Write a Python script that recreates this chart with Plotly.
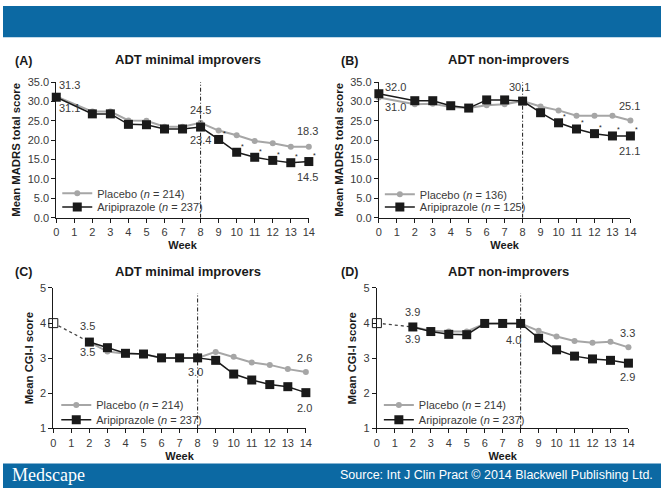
import plotly.graph_objects as go

# ---------------- data ----------------
weeks = [0, 2, 3, 4, 5, 6, 7, 8, 9, 10, 11, 12, 13, 14]
week_ticks = list(range(0, 15))

# (A) MADRS, ADT minimal improvers
a_placebo = [31.3, 27.4, 27.4, 25.1, 25.0, 23.5, 23.5, 24.5, 22.5, 21.3, 19.8, 19.2, 18.3, 18.3]
a_arip = [31.1, 26.8, 26.8, 24.1, 24.0, 22.9, 22.9, 23.4, 20.2, 16.9, 15.6, 14.8, 14.2, 14.5]
a_star_weeks = [9, 10, 11, 12, 13, 14]

# (B) MADRS, ADT non-improvers
b_placebo = [31.0, 29.3, 29.4, 28.6, 28.3, 29.0, 29.3, 30.1, 28.7, 27.7, 26.3, 26.3, 26.3, 25.1]
b_arip = [32.0, 30.2, 30.2, 28.9, 28.3, 30.4, 30.4, 30.1, 27.1, 24.5, 22.9, 21.7, 21.1, 21.1]
b_star_weeks = [10, 11, 12, 13, 14]

# (C) CGI-I, ADT minimal improvers (weeks 2..14) + baseline
cgi_weeks = [2, 3, 4, 5, 6, 7, 8, 9, 10, 11, 12, 13, 14]
c_placebo = [3.46, 3.19, 3.13, 3.12, 3.01, 3.01, 3.01, 3.18, 3.04, 2.88, 2.81, 2.69, 2.61]
c_arip = [3.46, 3.30, 3.14, 3.12, 3.01, 3.01, 3.01, 2.94, 2.55, 2.38, 2.25, 2.19, 2.02]
c_baseline = 4.0

# (D) CGI-I, ADT non-improvers
d_placebo = [3.89, 3.78, 3.76, 3.76, 3.98, 3.98, 3.99, 3.78, 3.62, 3.49, 3.44, 3.47, 3.31]
d_arip = [3.89, 3.76, 3.68, 3.67, 3.99, 3.99, 3.99, 3.57, 3.24, 3.06, 2.98, 2.94, 2.86]
d_baseline = 4.0

titles = ["ADT minimal improvers", "ADT non-improvers", "ADT minimal improvers", "ADT non-improvers"]
panel_tags = ["(A)", "(B)", "(C)", "(D)"]
n_placebo = [214, 136, 214, 214]
n_arip = [237, 125, 237, 237]

GRAY = "#a6a6a6"
BLACK = "#1a1a1a"
TXT = "#3a3a3a"
BLUE = "#0c69a3"
FONT = "Arial, Liberation Sans, sans-serif"

W, H = 667, 494

def px(x):
    return x / W

def py(y):
    return 1 - y / H

fig = go.Figure()

# panel geometry (pixel boxes): x0, x1, ytop, ybottom
boxes = [
    (54, 310, 78, 217),
    (381, 636, 78, 217),
    (51, 307, 289, 433),
    (379, 634, 289, 433),
]
yranges = [[0, 35], [0, 35], [1, 5], [1, 5]]
ytitles = ["Mean MADRS total score", "Mean MADRS total score", "Mean CGI-I score", "Mean CGI-I score"]

layout_axes = {}
for i, (x0, x1, yt, yb) in enumerate(boxes):
    k = "" if i == 0 else str(i + 1)
    madrs = i < 2
    layout_axes["xaxis" + k] = dict(
        domain=[px(x0), px(x1)], range=[0, 14], anchor="y" + k,
        tickmode="array", tickvals=week_ticks, ticktext=[str(t) for t in week_ticks],
        showline=True, linecolor=BLACK, linewidth=1, ticks="outside", ticklen=4,
        tickcolor=BLACK, showgrid=False, zeroline=False,
        tickfont=dict(size=11, color=TXT, family=FONT),
        title=dict(text="<b>Week</b>", font=dict(size=11, color=BLACK, family=FONT), standoff=4),
    )
    layout_axes["yaxis" + k] = dict(
        domain=[py(yb), py(yt)], range=yranges[i], anchor="x" + k,
        tickmode="linear", tick0=0 if madrs else 1, dtick=5 if madrs else 1,
        tickformat=".1f" if madrs else "d",
        showline=True, linecolor=BLACK, linewidth=1, ticks="outside", ticklen=4,
        tickcolor=BLACK, showgrid=False, zeroline=False,
        tickfont=dict(size=11, color=TXT, family=FONT),
        title=dict(text="<b>" + ytitles[i] + "</b>", font=dict(size=11.3, color=BLACK, family=FONT), standoff=4),
    )

series = [
    (weeks, a_placebo, a_arip),
    (weeks, b_placebo, b_arip),
    (cgi_weeks, c_placebo, c_arip),
    (cgi_weeks, d_placebo, d_arip),
]
baselines = [None, None, c_baseline, d_baseline]

for i, (xs, pl, ar) in enumerate(series):
    k = "" if i == 0 else str(i + 1)
    lg_p = "legend" if i == 0 else "legend" + str(2 * i + 1)
    lg_a = "legend" + str(2 * i + 2)
    base = baselines[i]
    if base is not None:
        fig.add_trace(go.Scatter(
            x=[0, xs[0]], y=[base, ar[0]], mode="lines",
            line=dict(color="#444444", width=1.3, dash="dot"),
            xaxis="x" + k, yaxis="y" + k, showlegend=False, cliponaxis=False))
        fig.add_trace(go.Scatter(
            x=[0], y=[base], mode="markers",
            marker=dict(symbol="square", size=9, color="white", line=dict(color=BLACK, width=1)),
            xaxis="x" + k, yaxis="y" + k, showlegend=False, cliponaxis=False))
    fig.add_trace(go.Scatter(
        x=xs, y=pl, mode="lines+markers", name="Placebo (<i>n</i> = %d)" % n_placebo[i],
        line=dict(color=GRAY, width=2), marker=dict(symbol="circle", size=6, color=GRAY),
        xaxis="x" + k, yaxis="y" + k, legend=lg_p, cliponaxis=False))
    fig.add_trace(go.Scatter(
        x=xs, y=ar, mode="lines+markers", name="Aripiprazole (<i>n</i> = %d)" % n_arip[i],
        line=dict(color=BLACK, width=1.5), marker=dict(symbol="square", size=9, color=BLACK),
        xaxis="x" + k, yaxis="y" + k, legend=lg_a, cliponaxis=False))

# legends: one per entry so that the rows can sit close together
legend_pos = [(55, 192), (55, 206), (382, 193), (382, 206),
              (54, 409), (54, 424), (381, 409), (381, 424)]
legends = {}
for j, (lx, ly) in enumerate(legend_pos):
    name = "legend" if j == 0 else "legend" + str(j + 1)
    legends[name] = dict(
        x=px(lx), y=py(ly), xanchor="left", yanchor="middle",
        bgcolor="rgba(0,0,0,0)", borderwidth=0, tracegroupgap=0,
        font=dict(size=11, color=TXT, family=FONT), itemwidth=30,
    )

annotations = []
shapes = []

# vertical dash-dot line at week 8
vtops = [35, 35, 4.85, 4.85]
for i in range(4):
    k = "" if i == 0 else str(i + 1)
    shapes.append(dict(type="line", xref="x" + k, yref="y" + k, x0=8, x1=8,
                       y0=yranges[i][0], y1=vtops[i],
                       line=dict(color=BLACK, width=1, dash="4px,2px,1px,2px")))

# panel titles and tags
title_pos = [(188, 55), (512, 55), (188, 272), (512, 272)]
tag_pos = [(10, 56), (341, 56), (10, 273), (341, 273)]
for i in range(4):
    tx, ty = title_pos[i]
    annotations.append(dict(x=px(tx), y=py(ty), xref="paper", yref="paper", text="<b>" + titles[i] + "</b>",
                            showarrow=False, xanchor="center", yanchor="middle",
                            font=dict(size=13, color=BLACK, family=FONT)))
    gx, gy = tag_pos[i]
    annotations.append(dict(x=px(gx), y=py(gy), xref="paper", yref="paper", text="<b>" + panel_tags[i] + "</b>",
                            showarrow=False, xanchor="left", yanchor="middle",
                            font=dict(size=12.5, color=BLACK, family=FONT)))

# value labels: (panel, series, index, xshift, yshift)
label_specs = [
    (0, "p", 0, 13, 11), (0, "a", 0, 13, -11), (0, "p", 7, 0, 13), (0, "a", 7, 0, -13),
    (0, "p", 13, -1, 16), (0, "a", 13, -1, -15),
    (1, "a", 0, 17, 7), (1, "p", 0, 17, -9), (1, "p", 7, -3, 14), (1, "p", 13, -1, 14), (1, "a", 13, -1, -15),
    (2, "a", 0, -2, 16), (2, "p", 0, -2, -10), (2, "a", 6, -2, -14), (2, "p", 12, -1, 14), (2, "a", 12, -1, -15),
    (3, "p", 0, 0, 15), (3, "a", 0, 0, -12), (3, "a", 6, -7, -17), (3, "p", 12, -1, 14), (3, "a", 12, -1, -14),
]
for (pi, s, idx, dx, dy) in label_specs:
    k = "" if pi == 0 else str(pi + 1)
    xs, pl, ar = series[pi]
    v = pl[idx] if s == "p" else ar[idx]
    annotations.append(dict(x=xs[idx], y=v, xref="x" + k, yref="y" + k, text="%.1f" % v,
                            showarrow=False, xshift=dx, yshift=dy,
                            font=dict(size=11, color=TXT, family=FONT)))

# asterisks for significance
for pi, star_weeks in [(0, a_star_weeks), (1, b_star_weeks)]:
    k = "" if pi == 0 else str(pi + 1)
    xs, pl, ar = series[pi]
    for w in star_weeks:
        v = ar[xs.index(w)]
        annotations.append(dict(x=w, y=v, xref="x" + k, yref="y" + k, text="*",
                                showarrow=False, xshift=6, yshift=6,
                                font=dict(size=7, color=BLACK, family=FONT)))

# banners
shapes.append(dict(type="rect", xref="paper", yref="paper", x0=0, x1=1, y0=py(32), y1=1,
                   fillcolor=BLUE, line=dict(width=0), layer="below"))
shapes.append(dict(type="rect", xref="paper", yref="paper", x0=0, x1=1, y0=0, y1=py(469),
                   fillcolor=BLUE, line=dict(width=0), layer="below"))
annotations.append(dict(x=px(7), y=py(481), xref="paper", yref="paper", text="Medscape",
                        showarrow=False, xanchor="left", yanchor="middle",
                        font=dict(size=18, color="white", family="Liberation Serif, Times New Roman, serif")))
annotations.append(dict(x=px(661), y=py(481), xref="paper", yref="paper",
                        text="Source: Int J Clin Pract \u00a9 2014 Blackwell Publishing Ltd.",
                        showarrow=False, xanchor="right", yanchor="middle",
                        font=dict(size=12.5, color="white", family=FONT)))

fig.update_layout(
    width=W, height=H, margin=dict(l=0, r=0, t=0, b=0),
    paper_bgcolor="white", plot_bgcolor="rgba(0,0,0,0)",
    font=dict(family=FONT, color=TXT),
    annotations=annotations, shapes=shapes, showlegend=True,
    **layout_axes, **legends,
)

fig.write_html(
    "out.html",
    config={"displayModeBar": False},
    post_script="document.documentElement.style.margin='0px';document.documentElement.style.overflow='hidden';"
                "document.body.style.margin='0px';document.body.style.padding='0px';"
                "document.body.style.overflow='hidden';",
)
